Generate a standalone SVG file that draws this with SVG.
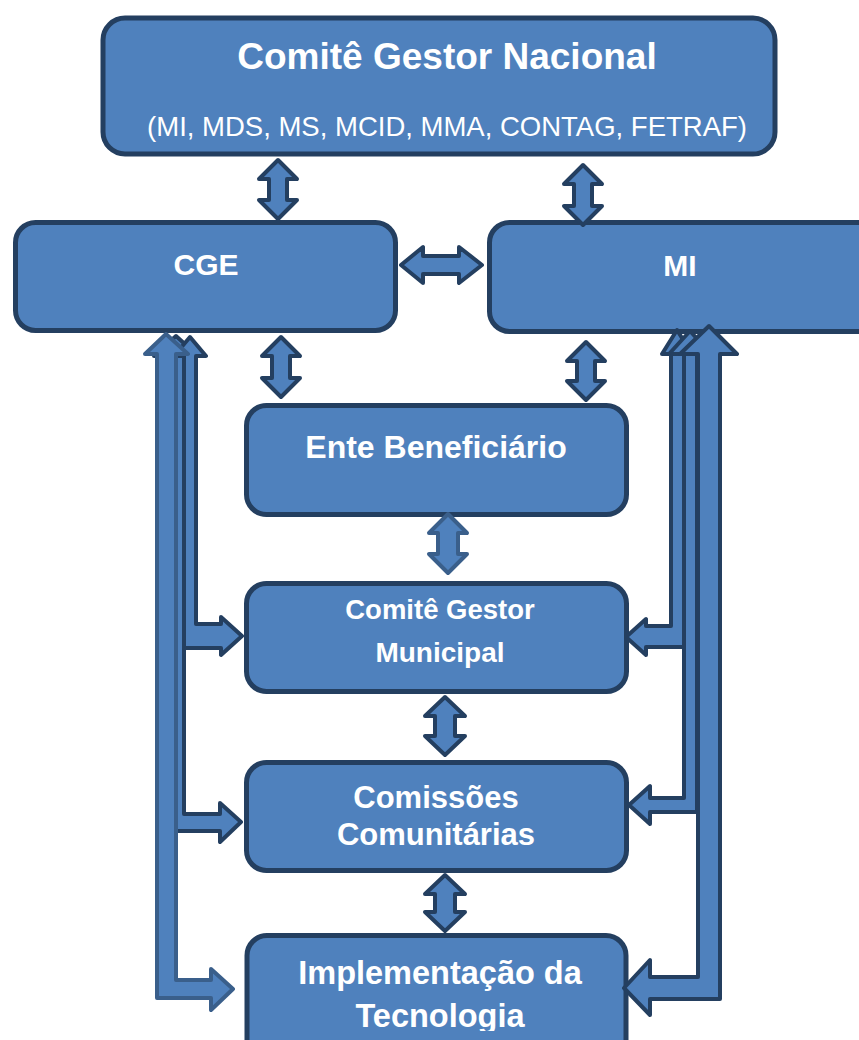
<svg xmlns="http://www.w3.org/2000/svg" width="859" height="1040" viewBox="0 0 859 1040">
<style>
.box{fill:#4f81bd;stroke:#243f60;stroke-width:5}
.arr{fill:#4f81bd;stroke:#243f60;stroke-width:4;stroke-linejoin:round}
.arl{fill:#4f81bd;stroke:#3a5f8b;stroke-width:4;stroke-linejoin:round}
text{font-family:"Liberation Sans",Arial,sans-serif;fill:#ffffff;text-anchor:middle}
.b{font-weight:bold}
</style>
<defs>
<clipPath id="clipT"><rect x="0" y="0" width="859" height="1031"/></clipPath>
</defs>
<rect width="859" height="1040" fill="#ffffff"/>
<g id="nodes">
<g id="comite-nacional">
<rect class="box" x="103" y="18" width="672" height="136" rx="22"/>
<text class="b" x="447" y="69" font-size="37">Comitê Gestor Nacional</text>
<text x="447" y="136" font-size="27.5">(MI, MDS, MS, MCID, MMA, CONTAG, FETRAF)</text>
</g>
<g id="cge">
<rect class="box" x="15.5" y="222.5" width="380" height="108" rx="20"/>
<text class="b" x="206" y="275" font-size="30">CGE</text>
</g>
<g id="mi">
<rect class="box" x="489.5" y="222.5" width="400" height="109" rx="20"/>
<text class="b" x="680" y="276" font-size="30">MI</text>
</g>
<g id="ente">
<rect class="box" x="246.5" y="405.5" width="380" height="109" rx="20"/>
<text class="b" x="436" y="458" font-size="32">Ente Beneficiário</text>
</g>
<g id="cgm">
<rect class="box" x="246.5" y="583.5" width="380" height="108" rx="20"/>
<text class="b" x="440" y="619" font-size="27.5">Comitê Gestor</text>
<text class="b" x="440" y="662" font-size="28">Municipal</text>
</g>
<g id="comissoes">
<rect class="box" x="246.5" y="762.5" width="380" height="108" rx="20"/>
<text class="b" x="436" y="808" font-size="31">Comissões</text>
<text class="b" x="436" y="845" font-size="31">Comunitárias</text>
</g>
<g id="implementacao">
<rect class="box" x="247" y="935.5" width="379" height="140" rx="20"/>
<g clip-path="url(#clipT)">
<text class="b" x="440" y="984" font-size="32.5">Implementação da</text>
<text class="b" x="440" y="1027" font-size="32.5">Tecnologia</text>
</g>
</g>
</g>
<g id="connectors">
<path class="arr" d="M278,160 L297,179 L287,179 L287,200 L297,200 L278,219 L259,200 L269,200 L269,179 L259,179 Z"/>
<path class="arr" d="M583,165 L602,184 L592,184 L592,206 L602,206 L583,225 L564,206 L574,206 L574,184 L564,184 Z"/>
<path class="arr" d="M281,337 L300,356 L290,356 L290,378 L300,378 L281,397 L262,378 L272,378 L272,356 L262,356 Z"/>
<path class="arr" d="M586,342 L605,361 L595,361 L595,381 L605,381 L586,400 L567,381 L577,381 L577,361 L567,361 Z"/>
<path class="arl" d="M448,514 L467,533 L458,533 L458,554 L467,554 L448,573 L429,554 L438,554 L438,533 L429,533 Z"/>
<path class="arr" d="M445,697 L465,716 L455,716 L455,736 L465,736 L445,755 L425,736 L435,736 L435,716 L425,716 Z"/>
<path class="arr" d="M445,875 L465,894 L455,894 L455,912 L465,912 L445,931 L425,912 L435,912 L435,894 L425,894 Z"/>
<path class="arr" d="M401,265 L423,247 L423,256 L459,256 L459,247 L482,265 L459,283 L459,274 L423,274 L423,283 Z"/>
<path class="arr" d="M176,336 L198,356 L184,356 L184,814 L220,814 L220,803 L241,822 L220,842 L220,831 L166,831 L166,356 L154,356 Z"/>
<path class="arr" d="M190,337 L206,356 L196,356 L196,624 L221,624 L221,617 L242,636 L221,655 L221,648 L184,648 L184,356 L174,356 Z"/>
<path class="arl" d="M166,334 L188,354 L176,354 L176,980 L211,980 L211,969 L233,989 L211,1010 L211,998 L157,998 L157,354 L145,354 Z"/>
<path class="arr" d="M677,330 L692,354 L684,354 L684,647 L646,647 L646,655 L626,637 L646,619 L646,626 L671,626 L671,354 L662,354 Z"/>
<path class="arr" d="M690,331 L711,354 L697,354 L697,812 L650,812 L650,824 L629,805 L650,786 L650,798 L684,798 L684,354 L669,354 Z"/>
<path class="arr" d="M709,326 L737,354 L720,354 L720,999 L650,999 L650,1015 L624,988 L650,960 L650,977 L698,977 L698,354 L680,354 Z"/>
</g>
</svg>
